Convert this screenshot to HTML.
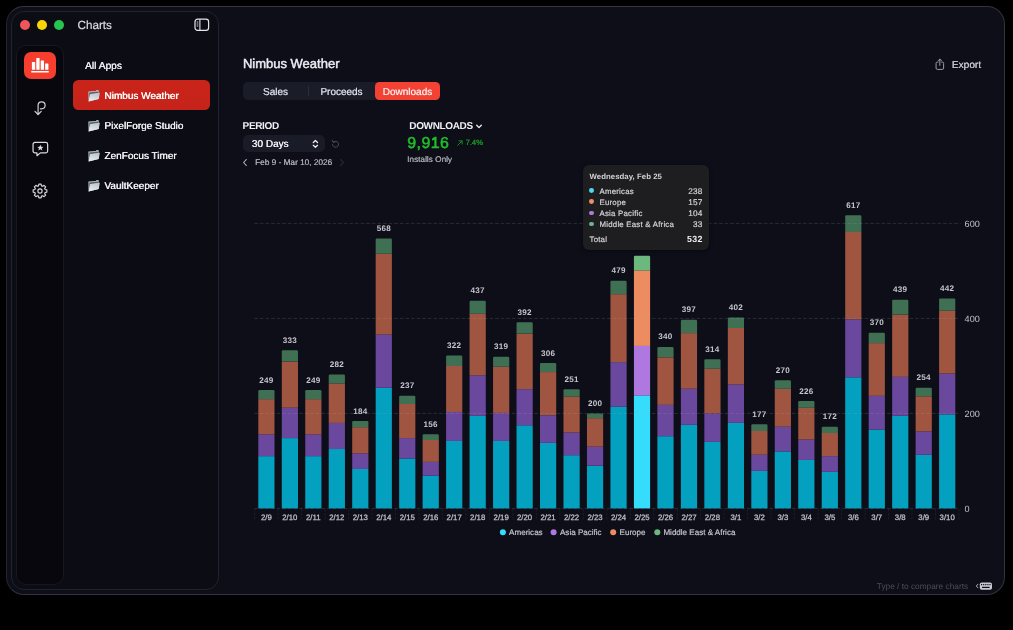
<!DOCTYPE html>
<html><head><meta charset="utf-8"><title>Charts</title>
<style>
*{box-sizing:border-box;margin:0;padding:0}
html,body{width:1013px;height:630px;overflow:hidden;background:#000}
body{font-family:"Liberation Sans",sans-serif;color:#e8e8ee;position:relative;-webkit-font-smoothing:antialiased;text-rendering:geometricPrecision}
.abs{position:absolute;white-space:nowrap}
#win{left:5.7px;top:5.5px;width:999.6px;height:589.8px;border-radius:18px;background:#0d0e18;border:1.3px solid #32333e;border-left-color:#23242f}
#side{left:11px;top:11px;width:208px;height:579px;border-radius:13px;background:#0b0c14;border:1px solid #21222c}
#rail{left:16px;top:44.6px;width:47.5px;height:540.6px;border-radius:10px;background:#07070d;border:1px solid #17181f}
.tl{width:10.2px;height:10.2px;border-radius:50%;top:20.1px}
.row{left:73px;width:137px;height:30px;border-radius:5.5px}
.rt{left:104.3px;font-size:10px;color:#f2f2f6;text-shadow:0.4px 0 0 #f2f2f6}
svg text{font-family:"Liberation Sans",sans-serif;text-rendering:geometricPrecision}
.vl{font-size:8.1px;fill:#c4c4cc;text-anchor:middle;font-weight:bold;letter-spacing:0.25px}
.xl{font-size:7.8px;fill:#c0c0c9;text-anchor:middle;stroke:#c0c0c9;stroke-width:0.25px}
.yl{font-size:9.1px;fill:#c0c0c8}
.lg{font-size:8.05px;fill:#c4c4cc;stroke:#c4c4cc;stroke-width:0.2px}
.seg{top:83.7px;height:18px;font-size:10px;line-height:18px;text-align:center;color:#e6e6ec;-webkit-text-stroke:0.2px #e6e6ec}
.tt{font-size:7.85px;letter-spacing:0.22px;color:#d2d2d8;-webkit-text-stroke:0.2px #d2d2d8}
.tv{font-size:8.25px;color:#d2d2d8;text-align:right;width:30px;left:672.5px;letter-spacing:0.15px;-webkit-text-stroke:0.2px #d2d2d8}
.dot{width:4.8px;height:4.8px;border-radius:50%;left:589.2px}
#root{position:absolute;left:0;top:0;width:1013px;height:630px;will-change:transform}
</style></head><body><div id="root">
<div id="win" class="abs"></div>
<div id="side" class="abs"></div>
<div id="rail" class="abs"></div>

<!-- traffic lights -->
<div class="abs tl" style="left:19.9px;background:#f2545b"></div>
<div class="abs tl" style="left:37.1px;background:#fcd40a"></div>
<div class="abs tl" style="left:54.1px;background:#27c550"></div>
<div class="abs" style="left:77.5px;top:19px;font-size:11.7px;color:#dcdce2;-webkit-text-stroke:0.2px #dcdce2">Charts</div>
<svg class="abs" style="left:193.6px;top:18.2px" width="16" height="14" viewBox="0 0 16 14"><rect x="1" y="1.2" width="13.6" height="11.2" rx="2.6" fill="none" stroke="#e4e4ea" stroke-width="1.2"/><line x1="5.9" y1="1.2" x2="5.9" y2="12.4" stroke="#e4e4ea" stroke-width="1.1"/><line x1="2.7" y1="4" x2="4.3" y2="4" stroke="#e4e4ea" stroke-width="0.9"/><line x1="2.7" y1="6" x2="4.3" y2="6" stroke="#e4e4ea" stroke-width="0.9"/><line x1="2.7" y1="8" x2="4.3" y2="8" stroke="#e4e4ea" stroke-width="0.9"/></svg>

<!-- rail icons -->
<div class="abs" style="left:23.800px;top:51.800px;width:32.500px;height:27px;border-radius:7px;background:#f63e2e"></div>
<svg class="abs" style="left:23.800px;top:52px" width="33" height="27" viewBox="0 0 33 27"><g fill="#fff"><rect x="7.900" y="10.100" width="3.300" height="7.700" rx="0.500"/><rect x="12.300" y="6" width="3.300" height="11.800" rx="0.500"/><rect x="16.700" y="8.400" width="3.300" height="9.400" rx="0.500"/><rect x="21.100" y="11.600" width="3.300" height="6.200" rx="0.500"/><rect x="7.200" y="19" width="17.600" height="1.600" rx="0.500"/></g></svg>
<svg class="abs" style="left:31px;top:97px" width="18" height="22" viewBox="0 0 18 22"><g fill="none" stroke="#d0d0d8" stroke-width="1.200" stroke-linecap="round" stroke-linejoin="round"><path d="M7.100 17.300V8.300a3.500 3.500 0 1 1 3.500 3.500H9.400"/><path d="M4 14.400l3.100 3.100 3.100-3.100"/></g></svg>
<svg class="abs" style="left:30.950px;top:140.200px" width="18.700" height="18.700" viewBox="0 0 20 20"><path d="M4.2 2.6h11.6a2 2 0 0 1 2 2v7.2a2 2 0 0 1-2 2H10l-3.6 3v-3H4.2a2 2 0 0 1-2-2V4.600a2 2 0 0 1 2-2z" fill="none" stroke="#d8d8de" stroke-width="1.3" stroke-linejoin="round"/><path d="M10 5l1 2.2 2.3.2-1.8 1.5.6 2.3L10 10l-2.100 1.200.6-2.300-1.800-1.500 2.300-.2z" fill="#d8d8de"/></svg>
<svg class="abs" style="left:31.900px;top:182.750px" width="16" height="16" viewBox="0 0 24 24"><g fill="none" stroke="#d8d8de" stroke-width="1.7" stroke-linejoin="round"><path d="M10.3 2.500h3.400l.5 2.600 1.700.7 2.200-1.500 2.400 2.400-1.500 2.200.7 1.700 2.600.5v3.400l-2.600.5-.7 1.700 1.500 2.200-2.400 2.400-2.200-1.500-1.700.7-.5 2.600h-3.400l-.5-2.600-1.700-.7-2.200 1.500-2.400-2.400 1.500-2.200-.7-1.700-2.600-.5v-3.400l2.600-.5.7-1.700-1.500-2.200 2.400-2.400 2.200 1.500 1.700-.7z" transform="translate(0,-0.800)"/><circle cx="12" cy="12" r="3.200"/></g></svg>

<!-- sidebar list -->
<div class="abs" style="left:85px;top:61.3px;font-size:10.2px;color:#ececf2;text-shadow:0.3px 0 0 #ececf2">All Apps</div>
<div class="abs row" style="top:80px;background:linear-gradient(180deg,#ca241a,#c5231a)"></div>
<svg class="abs" style="left:88.3px;top:89.5px" width="13" height="12" viewBox="0 0 13 12"><defs><linearGradient id="fg" x1="0.6" y1="0" x2="0.3" y2="1"><stop offset="0" stop-color="#bcc5cc"/><stop offset="1" stop-color="#e9edf0"/></linearGradient></defs><path d="M0.4 1.500L7.900 0.900L8.300 0.200L10.400 0.100L10.700 0.900V9L0.600 11.400z" fill="#c3c8cd"/><path d="M1.200 2.400L10.300 1.600V3.300L2.300 4.300L1.400 8.500z" fill="#565d66"/><path d="M2.150 4L11.900 2.750L10.650 9.050L0.650 11.450z" fill="url(#fg)"/></svg>
<svg class="abs" style="left:88.3px;top:119.5px" width="13" height="12" viewBox="0 0 13 12"><defs><linearGradient id="fg" x1="0.6" y1="0" x2="0.3" y2="1"><stop offset="0" stop-color="#bcc5cc"/><stop offset="1" stop-color="#e9edf0"/></linearGradient></defs><path d="M0.4 1.500L7.900 0.900L8.300 0.200L10.400 0.100L10.700 0.900V9L0.600 11.400z" fill="#c3c8cd"/><path d="M1.200 2.400L10.300 1.600V3.300L2.300 4.300L1.400 8.500z" fill="#565d66"/><path d="M2.150 4L11.900 2.750L10.650 9.050L0.650 11.450z" fill="url(#fg)"/></svg>
<svg class="abs" style="left:88.3px;top:149.5px" width="13" height="12" viewBox="0 0 13 12"><defs><linearGradient id="fg" x1="0.6" y1="0" x2="0.3" y2="1"><stop offset="0" stop-color="#bcc5cc"/><stop offset="1" stop-color="#e9edf0"/></linearGradient></defs><path d="M0.4 1.500L7.900 0.900L8.300 0.200L10.400 0.100L10.700 0.900V9L0.600 11.400z" fill="#c3c8cd"/><path d="M1.200 2.400L10.300 1.600V3.300L2.300 4.300L1.400 8.500z" fill="#565d66"/><path d="M2.150 4L11.900 2.750L10.650 9.050L0.650 11.450z" fill="url(#fg)"/></svg>
<svg class="abs" style="left:88.3px;top:179.5px" width="13" height="12" viewBox="0 0 13 12"><defs><linearGradient id="fg" x1="0.6" y1="0" x2="0.3" y2="1"><stop offset="0" stop-color="#bcc5cc"/><stop offset="1" stop-color="#e9edf0"/></linearGradient></defs><path d="M0.4 1.500L7.900 0.900L8.300 0.200L10.400 0.100L10.700 0.900V9L0.600 11.400z" fill="#c3c8cd"/><path d="M1.200 2.400L10.300 1.600V3.300L2.300 4.300L1.400 8.500z" fill="#565d66"/><path d="M2.150 4L11.900 2.750L10.650 9.050L0.650 11.450z" fill="url(#fg)"/></svg>
<div class="abs rt" style="top:91px;color:#fff;text-shadow:0.4px 0 0 #fff">Nimbus Weather</div>
<div class="abs rt" style="top:121px">PixelForge Studio</div>
<div class="abs rt" style="top:151px">ZenFocus Timer</div>
<div class="abs rt" style="top:181px">VaultKeeper</div>

<!-- header -->
<div class="abs" style="left:242.9px;top:56.2px;font-size:13px;color:#ececf2;-webkit-text-stroke:0.45px #ececf2">Nimbus Weather</div>
<svg class="abs" style="left:933.850px;top:57.200px" width="12.600" height="14.400" viewBox="0 0 14 16"><g fill="none" stroke="#a6a6b0" stroke-width="1.050" stroke-linecap="round" stroke-linejoin="round"><path d="M4.600 5.600H3.800a1.500 1.500 0 0 0-1.500 1.500v5.200a1.500 1.500 0 0 0 1.500 1.500h5.400a1.500 1.500 0 0 0 1.500-1.500V7.100a1.500 1.500 0 0 0-1.500-1.500H8.400"/><path d="M6.500 9.400V2.400M4.800 4l1.700-1.700L8.200 4"/></g></svg>
<div class="abs" style="left:951.8px;top:59.9px;font-size:10.1px;color:#c2c2ca;text-shadow:0.25px 0 0 #c2c2ca">Export</div>

<!-- segmented -->
<div class="abs" style="left:243px;top:82px;width:197px;height:18px;border-radius:5px;background:#1a1c28"></div>
<div class="abs" style="left:308px;top:86px;width:1px;height:10px;background:#2c2e3a"></div>
<div class="abs seg" style="left:243px;width:65px">Sales</div>
<div class="abs seg" style="left:308px;width:67px">Proceeds</div>
<div class="abs" style="left:375px;top:82px;width:65px;height:18px;border-radius:4.5px;background:#f34233"></div>
<div class="abs seg" style="left:375px;width:65px;color:#fff">Downloads</div>

<!-- period -->
<div class="abs" style="left:242.600px;top:120.9px;font-size:10px;font-weight:bold;color:#f0f0f4;letter-spacing:-0.35px">PERIOD</div>
<div class="abs" style="left:243px;top:135px;width:81.800px;height:17.300px;border-radius:5px;background:#191b27"></div>
<div class="abs" style="left:251.800px;top:138.800px;font-size:10px;color:#f0f0f4;text-shadow:0.3px 0 0 #f0f0f4">30 Days</div>
<svg class="abs" style="left:310.600px;top:138px" width="9" height="12" viewBox="0 0 9 12"><g fill="none" stroke="#f0f0f4" stroke-width="1.250" stroke-linecap="round" stroke-linejoin="round"><path d="M2.300 4.500l2.100-2L6.500 4.500"/><path d="M2.300 7.300l2.100 2L6.500 7.300"/></g></svg>
<svg class="abs" style="left:331px;top:138.500px" width="9" height="10" viewBox="0 0 9 10"><g fill="none" stroke="#4a4c58" stroke-width="1" stroke-linecap="round" stroke-linejoin="round"><path d="M2.200 3.300A3 3 0 1 1 1.500 5.600"/><path d="M1.200 1.200l.9 2.200 2.200-.6" /></g></svg>
<svg class="abs" style="left:242px;top:157.500px" width="6" height="9" viewBox="0 0 6 9"><path d="M4.300 1.500L1.600 4.500l2.700 3" fill="none" stroke="#b8b8c0" stroke-width="1.100" stroke-linecap="round" stroke-linejoin="round"/></svg>
<div class="abs" style="left:255px;top:157.600px;font-size:8.25px;color:#a8a8b2;text-shadow:0.3px 0 0 #a8a8b2">Feb 9 - Mar 10, 2026</div>
<svg class="abs" style="left:339px;top:157.500px" width="6" height="9" viewBox="0 0 6 9"><path d="M1.700 1.500L4.400 4.500l-2.700 3" fill="none" stroke="#2c2e3a" stroke-width="1.100" stroke-linecap="round" stroke-linejoin="round"/></svg>

<!-- downloads -->
<div class="abs" style="left:409.300px;top:120.9px;font-size:10px;font-weight:bold;color:#f0f0f4;letter-spacing:-0.35px">DOWNLOADS</div>
<svg class="abs" style="left:475px;top:122.500px" width="8" height="7" viewBox="0 0 8 7"><path d="M1.700 2.300L4 4.600l2.300-2.300" fill="none" stroke="#f0f0f4" stroke-width="1.300" stroke-linecap="round" stroke-linejoin="round"/></svg>
<div class="abs" style="left:407.300px;top:134.700px;font-size:15.900px;color:#1fbe2a;letter-spacing:0.47px;-webkit-text-stroke:0.55px #1fbe2a">9,916</div>
<svg class="abs" style="left:455.500px;top:138.500px" width="8" height="8" viewBox="0 0 8 8"><path d="M1.700 6.300L6 2M2.900 1.900h3.200v3.200" fill="none" stroke="#1a9a26" stroke-width="0.900" stroke-linecap="round" stroke-linejoin="round"/></svg>
<div class="abs" style="left:465.400px;top:138.300px;font-size:7.700px;color:#1a9a26;text-shadow:0.3px 0 0 #1a9a26">7.4%</div>
<div class="abs" style="left:407px;top:155px;font-size:8.25px;color:#a0a0aa;text-shadow:0.3px 0 0 #a0a0aa">Installs Only</div>

<!-- chart -->
<svg class="abs" style="left:0;top:0" width="1013" height="630" viewBox="0 0 1013 630">
<rect x="258.30" y="456.15" width="16.2" height="52.25" fill="#04a0c0"/>
<rect x="258.30" y="434.30" width="16.2" height="21.85" fill="#6a489e"/>
<rect x="258.30" y="399.15" width="16.2" height="35.15" fill="#a05540"/>
<path d="M258.30 399.15V391.32q0 -1.2 1.2 -1.2h13.80q1.2 0 1.2 1.2V399.15z" fill="#3f7053"/>
<text x="266.40" y="382.68" class="vl">249</text>
<text x="266.40" y="519.7" class="xl">2/9</text>
<rect x="281.78" y="438.10" width="16.2" height="70.30" fill="#04a0c0"/>
<rect x="281.78" y="407.70" width="16.2" height="30.40" fill="#6a489e"/>
<rect x="281.78" y="361.62" width="16.2" height="46.07" fill="#a05540"/>
<path d="M281.78 361.62V351.43q0 -1.2 1.2 -1.2h13.80q1.2 0 1.2 1.2V361.62z" fill="#3f7053"/>
<text x="289.88" y="342.78" class="vl">333</text>
<text x="289.88" y="519.7" class="xl">2/10</text>
<rect x="305.25" y="456.15" width="16.2" height="52.25" fill="#04a0c0"/>
<rect x="305.25" y="434.30" width="16.2" height="21.85" fill="#6a489e"/>
<rect x="305.25" y="399.15" width="16.2" height="35.15" fill="#a05540"/>
<path d="M305.25 399.15V391.32q0 -1.2 1.2 -1.2h13.80q1.2 0 1.2 1.2V399.15z" fill="#3f7053"/>
<text x="313.35" y="382.68" class="vl">249</text>
<text x="313.35" y="519.7" class="xl">2/11</text>
<rect x="328.73" y="449.02" width="16.2" height="59.38" fill="#04a0c0"/>
<rect x="328.73" y="422.90" width="16.2" height="26.12" fill="#6a489e"/>
<rect x="328.73" y="383.47" width="16.2" height="39.43" fill="#a05540"/>
<path d="M328.73 383.47V375.65q0 -1.2 1.2 -1.2h13.80q1.2 0 1.2 1.2V383.47z" fill="#3f7053"/>
<text x="336.83" y="367.00" class="vl">282</text>
<text x="336.83" y="519.7" class="xl">2/12</text>
<rect x="352.20" y="468.97" width="16.2" height="39.43" fill="#04a0c0"/>
<rect x="352.20" y="453.30" width="16.2" height="15.68" fill="#6a489e"/>
<rect x="352.20" y="427.17" width="16.2" height="26.12" fill="#a05540"/>
<path d="M352.20 427.17V422.20q0 -1.2 1.2 -1.2h13.80q1.2 0 1.2 1.2V427.17z" fill="#3f7053"/>
<text x="360.30" y="413.55" class="vl">184</text>
<text x="360.30" y="519.7" class="xl">2/13</text>
<rect x="375.68" y="387.75" width="16.2" height="120.65" fill="#04a0c0"/>
<rect x="375.68" y="334.55" width="16.2" height="53.20" fill="#6a489e"/>
<rect x="375.68" y="253.80" width="16.2" height="80.75" fill="#a05540"/>
<path d="M375.68 253.80V239.80q0 -1.2 1.2 -1.2h13.80q1.2 0 1.2 1.2V253.80z" fill="#3f7053"/>
<text x="383.78" y="231.15" class="vl">568</text>
<text x="383.78" y="519.7" class="xl">2/14</text>
<rect x="399.16" y="458.52" width="16.2" height="49.88" fill="#04a0c0"/>
<rect x="399.16" y="438.10" width="16.2" height="20.43" fill="#6a489e"/>
<rect x="399.16" y="403.90" width="16.2" height="34.20" fill="#a05540"/>
<path d="M399.16 403.90V397.02q0 -1.2 1.2 -1.2h13.80q1.2 0 1.2 1.2V403.90z" fill="#3f7053"/>
<text x="407.26" y="388.38" class="vl">237</text>
<text x="407.26" y="519.7" class="xl">2/15</text>
<rect x="422.63" y="475.62" width="16.2" height="32.77" fill="#04a0c0"/>
<rect x="422.63" y="461.85" width="16.2" height="13.78" fill="#6a489e"/>
<rect x="422.63" y="440.00" width="16.2" height="21.85" fill="#a05540"/>
<path d="M422.63 440.00V435.50q0 -1.2 1.2 -1.2h13.80q1.2 0 1.2 1.2V440.00z" fill="#3f7053"/>
<text x="430.73" y="426.85" class="vl">156</text>
<text x="430.73" y="519.7" class="xl">2/16</text>
<rect x="446.11" y="440.95" width="16.2" height="67.45" fill="#04a0c0"/>
<rect x="446.11" y="411.97" width="16.2" height="28.98" fill="#6a489e"/>
<rect x="446.11" y="365.90" width="16.2" height="46.07" fill="#a05540"/>
<path d="M446.11 365.90V356.65q0 -1.2 1.2 -1.2h13.80q1.2 0 1.2 1.2V365.90z" fill="#3f7053"/>
<text x="454.21" y="348.00" class="vl">322</text>
<text x="454.21" y="519.7" class="xl">2/17</text>
<rect x="469.58" y="415.77" width="16.2" height="92.62" fill="#04a0c0"/>
<rect x="469.58" y="375.40" width="16.2" height="40.38" fill="#6a489e"/>
<rect x="469.58" y="313.65" width="16.2" height="61.75" fill="#a05540"/>
<path d="M469.58 313.65V302.02q0 -1.2 1.2 -1.2h13.80q1.2 0 1.2 1.2V313.65z" fill="#3f7053"/>
<text x="477.68" y="293.38" class="vl">437</text>
<text x="477.68" y="519.7" class="xl">2/18</text>
<rect x="493.06" y="440.95" width="16.2" height="67.45" fill="#04a0c0"/>
<rect x="493.06" y="412.92" width="16.2" height="28.03" fill="#6a489e"/>
<rect x="493.06" y="366.85" width="16.2" height="46.07" fill="#a05540"/>
<path d="M493.06 366.85V358.07q0 -1.2 1.2 -1.2h13.80q1.2 0 1.2 1.2V366.85z" fill="#3f7053"/>
<text x="501.16" y="349.43" class="vl">319</text>
<text x="501.16" y="519.7" class="xl">2/19</text>
<rect x="516.54" y="425.27" width="16.2" height="83.12" fill="#04a0c0"/>
<rect x="516.54" y="389.17" width="16.2" height="36.10" fill="#6a489e"/>
<rect x="516.54" y="333.60" width="16.2" height="55.57" fill="#a05540"/>
<path d="M516.54 333.60V323.40q0 -1.2 1.2 -1.2h13.80q1.2 0 1.2 1.2V333.60z" fill="#3f7053"/>
<text x="524.64" y="314.75" class="vl">392</text>
<text x="524.64" y="519.7" class="xl">2/20</text>
<rect x="540.01" y="442.85" width="16.2" height="65.55" fill="#04a0c0"/>
<rect x="540.01" y="415.30" width="16.2" height="27.55" fill="#6a489e"/>
<rect x="540.01" y="372.07" width="16.2" height="43.22" fill="#a05540"/>
<path d="M540.01 372.07V364.25q0 -1.2 1.2 -1.2h13.80q1.2 0 1.2 1.2V372.07z" fill="#3f7053"/>
<text x="548.11" y="355.60" class="vl">306</text>
<text x="548.11" y="519.7" class="xl">2/21</text>
<rect x="563.49" y="455.20" width="16.2" height="53.20" fill="#04a0c0"/>
<rect x="563.49" y="432.40" width="16.2" height="22.80" fill="#6a489e"/>
<rect x="563.49" y="396.77" width="16.2" height="35.62" fill="#a05540"/>
<path d="M563.49 396.77V390.37q0 -1.2 1.2 -1.2h13.80q1.2 0 1.2 1.2V396.77z" fill="#3f7053"/>
<text x="571.59" y="381.72" class="vl">251</text>
<text x="571.59" y="519.7" class="xl">2/22</text>
<rect x="586.96" y="465.65" width="16.2" height="42.75" fill="#04a0c0"/>
<rect x="586.96" y="446.65" width="16.2" height="19.00" fill="#6a489e"/>
<rect x="586.96" y="418.15" width="16.2" height="28.50" fill="#a05540"/>
<path d="M586.96 418.15V414.60q0 -1.2 1.2 -1.2h13.80q1.2 0 1.2 1.2V418.15z" fill="#3f7053"/>
<text x="595.06" y="405.95" class="vl">200</text>
<text x="595.06" y="519.7" class="xl">2/23</text>
<rect x="610.44" y="406.75" width="16.2" height="101.65" fill="#04a0c0"/>
<rect x="610.44" y="362.10" width="16.2" height="44.65" fill="#6a489e"/>
<rect x="610.44" y="294.17" width="16.2" height="67.93" fill="#a05540"/>
<path d="M610.44 294.17V282.07q0 -1.2 1.2 -1.2h13.80q1.2 0 1.2 1.2V294.17z" fill="#3f7053"/>
<text x="618.54" y="273.43" class="vl">479</text>
<text x="618.54" y="519.7" class="xl">2/24</text>
<rect x="633.92" y="395.35" width="16.2" height="113.05" fill="#36dcfc"/>
<rect x="633.92" y="345.95" width="16.2" height="49.40" fill="#ae78e0"/>
<rect x="633.92" y="270.42" width="16.2" height="75.53" fill="#ec8c60"/>
<path d="M633.92 270.42V256.90q0 -1.2 1.2 -1.2h13.80q1.2 0 1.2 1.2V270.42z" fill="#6db87e"/>
<text x="642.02" y="519.7" class="xl">2/25</text>
<rect x="657.39" y="436.20" width="16.2" height="72.20" fill="#04a0c0"/>
<rect x="657.39" y="404.85" width="16.2" height="31.35" fill="#6a489e"/>
<rect x="657.39" y="357.35" width="16.2" height="47.50" fill="#a05540"/>
<path d="M657.39 357.35V348.10q0 -1.2 1.2 -1.2h13.80q1.2 0 1.2 1.2V357.35z" fill="#3f7053"/>
<text x="665.49" y="339.45" class="vl">340</text>
<text x="665.49" y="519.7" class="xl">2/26</text>
<rect x="680.87" y="424.80" width="16.2" height="83.60" fill="#04a0c0"/>
<rect x="680.87" y="388.70" width="16.2" height="36.10" fill="#6a489e"/>
<rect x="680.87" y="333.12" width="16.2" height="55.57" fill="#a05540"/>
<path d="M680.87 333.12V321.02q0 -1.2 1.2 -1.2h13.80q1.2 0 1.2 1.2V333.12z" fill="#3f7053"/>
<text x="688.97" y="312.38" class="vl">397</text>
<text x="688.97" y="519.7" class="xl">2/27</text>
<rect x="704.34" y="441.90" width="16.2" height="66.50" fill="#04a0c0"/>
<rect x="704.34" y="413.40" width="16.2" height="28.50" fill="#6a489e"/>
<rect x="704.34" y="368.75" width="16.2" height="44.65" fill="#a05540"/>
<path d="M704.34 368.75V360.45q0 -1.2 1.2 -1.2h13.80q1.2 0 1.2 1.2V368.75z" fill="#3f7053"/>
<text x="712.44" y="351.80" class="vl">314</text>
<text x="712.44" y="519.7" class="xl">2/28</text>
<rect x="727.82" y="422.90" width="16.2" height="85.50" fill="#04a0c0"/>
<rect x="727.82" y="384.42" width="16.2" height="38.48" fill="#6a489e"/>
<rect x="727.82" y="327.90" width="16.2" height="56.52" fill="#a05540"/>
<path d="M727.82 327.90V318.65q0 -1.2 1.2 -1.2h13.80q1.2 0 1.2 1.2V327.90z" fill="#3f7053"/>
<text x="735.92" y="310.00" class="vl">402</text>
<text x="735.92" y="519.7" class="xl">3/1</text>
<rect x="751.30" y="470.88" width="16.2" height="37.52" fill="#04a0c0"/>
<rect x="751.30" y="454.72" width="16.2" height="16.15" fill="#6a489e"/>
<rect x="751.30" y="430.97" width="16.2" height="23.75" fill="#a05540"/>
<path d="M751.30 430.97V425.52q0 -1.2 1.2 -1.2h13.80q1.2 0 1.2 1.2V430.97z" fill="#3f7053"/>
<text x="759.40" y="416.88" class="vl">177</text>
<text x="759.40" y="519.7" class="xl">3/2</text>
<rect x="774.77" y="451.40" width="16.2" height="57.00" fill="#04a0c0"/>
<rect x="774.77" y="426.70" width="16.2" height="24.70" fill="#6a489e"/>
<rect x="774.77" y="388.70" width="16.2" height="38.00" fill="#a05540"/>
<path d="M774.77 388.70V381.35q0 -1.2 1.2 -1.2h13.80q1.2 0 1.2 1.2V388.70z" fill="#3f7053"/>
<text x="782.87" y="372.70" class="vl">270</text>
<text x="782.87" y="519.7" class="xl">3/3</text>
<rect x="798.25" y="459.95" width="16.2" height="48.45" fill="#04a0c0"/>
<rect x="798.25" y="439.52" width="16.2" height="20.43" fill="#6a489e"/>
<rect x="798.25" y="407.70" width="16.2" height="31.82" fill="#a05540"/>
<path d="M798.25 407.70V402.25q0 -1.2 1.2 -1.2h13.80q1.2 0 1.2 1.2V407.70z" fill="#3f7053"/>
<text x="806.35" y="393.60" class="vl">226</text>
<text x="806.35" y="519.7" class="xl">3/4</text>
<rect x="821.72" y="471.82" width="16.2" height="36.57" fill="#04a0c0"/>
<rect x="821.72" y="456.15" width="16.2" height="15.68" fill="#6a489e"/>
<rect x="821.72" y="432.88" width="16.2" height="23.27" fill="#a05540"/>
<path d="M821.72 432.88V427.90q0 -1.2 1.2 -1.2h13.80q1.2 0 1.2 1.2V432.88z" fill="#3f7053"/>
<text x="829.82" y="419.25" class="vl">172</text>
<text x="829.82" y="519.7" class="xl">3/5</text>
<rect x="845.20" y="377.30" width="16.2" height="131.10" fill="#04a0c0"/>
<rect x="845.20" y="319.35" width="16.2" height="57.95" fill="#6a489e"/>
<rect x="845.20" y="231.95" width="16.2" height="87.40" fill="#a05540"/>
<path d="M845.20 231.95V216.52q0 -1.2 1.2 -1.2h13.80q1.2 0 1.2 1.2V231.95z" fill="#3f7053"/>
<text x="853.30" y="207.88" class="vl">617</text>
<text x="853.30" y="519.7" class="xl">3/6</text>
<rect x="868.68" y="429.55" width="16.2" height="78.85" fill="#04a0c0"/>
<rect x="868.68" y="395.82" width="16.2" height="33.72" fill="#6a489e"/>
<rect x="868.68" y="343.10" width="16.2" height="52.72" fill="#a05540"/>
<path d="M868.68 343.10V333.85q0 -1.2 1.2 -1.2h13.80q1.2 0 1.2 1.2V343.10z" fill="#3f7053"/>
<text x="876.78" y="325.20" class="vl">370</text>
<text x="876.78" y="519.7" class="xl">3/7</text>
<rect x="892.15" y="415.77" width="16.2" height="92.62" fill="#04a0c0"/>
<rect x="892.15" y="376.82" width="16.2" height="38.95" fill="#6a489e"/>
<rect x="892.15" y="314.60" width="16.2" height="62.22" fill="#a05540"/>
<path d="M892.15 314.60V301.07q0 -1.2 1.2 -1.2h13.80q1.2 0 1.2 1.2V314.60z" fill="#3f7053"/>
<text x="900.25" y="292.43" class="vl">439</text>
<text x="900.25" y="519.7" class="xl">3/8</text>
<rect x="915.63" y="454.72" width="16.2" height="53.68" fill="#04a0c0"/>
<rect x="915.63" y="431.45" width="16.2" height="23.27" fill="#6a489e"/>
<rect x="915.63" y="396.30" width="16.2" height="35.15" fill="#a05540"/>
<path d="M915.63 396.30V388.95q0 -1.2 1.2 -1.2h13.80q1.2 0 1.2 1.2V396.30z" fill="#3f7053"/>
<text x="923.73" y="380.30" class="vl">254</text>
<text x="923.73" y="519.7" class="xl">3/9</text>
<rect x="939.10" y="414.35" width="16.2" height="94.05" fill="#04a0c0"/>
<rect x="939.10" y="373.50" width="16.2" height="40.85" fill="#6a489e"/>
<rect x="939.10" y="310.80" width="16.2" height="62.70" fill="#a05540"/>
<path d="M939.10 310.80V299.65q0 -1.2 1.2 -1.2h13.80q1.2 0 1.2 1.2V310.80z" fill="#3f7053"/>
<text x="947.20" y="291.00" class="vl">442</text>
<text x="947.20" y="519.7" class="xl">3/10</text>
<line x1="254.66" y1="509" x2="254.66" y2="519.5" stroke="#23242e" stroke-width="0.7" stroke-dasharray="2.5 1.5"/>
<line x1="278.14" y1="509" x2="278.14" y2="519.5" stroke="#23242e" stroke-width="0.7" stroke-dasharray="2.5 1.5"/>
<line x1="301.61" y1="509" x2="301.61" y2="519.5" stroke="#23242e" stroke-width="0.7" stroke-dasharray="2.5 1.5"/>
<line x1="325.09" y1="509" x2="325.09" y2="519.5" stroke="#23242e" stroke-width="0.7" stroke-dasharray="2.5 1.5"/>
<line x1="348.57" y1="509" x2="348.57" y2="519.5" stroke="#23242e" stroke-width="0.7" stroke-dasharray="2.5 1.5"/>
<line x1="372.04" y1="509" x2="372.04" y2="519.5" stroke="#23242e" stroke-width="0.7" stroke-dasharray="2.5 1.5"/>
<line x1="395.52" y1="509" x2="395.52" y2="519.5" stroke="#23242e" stroke-width="0.7" stroke-dasharray="2.5 1.5"/>
<line x1="418.99" y1="509" x2="418.99" y2="519.5" stroke="#23242e" stroke-width="0.7" stroke-dasharray="2.5 1.5"/>
<line x1="442.47" y1="509" x2="442.47" y2="519.5" stroke="#23242e" stroke-width="0.7" stroke-dasharray="2.5 1.5"/>
<line x1="465.95" y1="509" x2="465.95" y2="519.5" stroke="#23242e" stroke-width="0.7" stroke-dasharray="2.5 1.5"/>
<line x1="489.42" y1="509" x2="489.42" y2="519.5" stroke="#23242e" stroke-width="0.7" stroke-dasharray="2.5 1.5"/>
<line x1="512.90" y1="509" x2="512.90" y2="519.5" stroke="#23242e" stroke-width="0.7" stroke-dasharray="2.5 1.5"/>
<line x1="536.37" y1="509" x2="536.37" y2="519.5" stroke="#23242e" stroke-width="0.7" stroke-dasharray="2.5 1.5"/>
<line x1="559.85" y1="509" x2="559.85" y2="519.5" stroke="#23242e" stroke-width="0.7" stroke-dasharray="2.5 1.5"/>
<line x1="583.33" y1="509" x2="583.33" y2="519.5" stroke="#23242e" stroke-width="0.7" stroke-dasharray="2.5 1.5"/>
<line x1="606.80" y1="509" x2="606.80" y2="519.5" stroke="#23242e" stroke-width="0.7" stroke-dasharray="2.5 1.5"/>
<line x1="630.28" y1="509" x2="630.28" y2="519.5" stroke="#23242e" stroke-width="0.7" stroke-dasharray="2.5 1.5"/>
<line x1="653.75" y1="509" x2="653.75" y2="519.5" stroke="#23242e" stroke-width="0.7" stroke-dasharray="2.5 1.5"/>
<line x1="677.23" y1="509" x2="677.23" y2="519.5" stroke="#23242e" stroke-width="0.7" stroke-dasharray="2.5 1.5"/>
<line x1="700.71" y1="509" x2="700.71" y2="519.5" stroke="#23242e" stroke-width="0.7" stroke-dasharray="2.5 1.5"/>
<line x1="724.18" y1="509" x2="724.18" y2="519.5" stroke="#23242e" stroke-width="0.7" stroke-dasharray="2.5 1.5"/>
<line x1="747.66" y1="509" x2="747.66" y2="519.5" stroke="#23242e" stroke-width="0.7" stroke-dasharray="2.5 1.5"/>
<line x1="771.13" y1="509" x2="771.13" y2="519.5" stroke="#23242e" stroke-width="0.7" stroke-dasharray="2.5 1.5"/>
<line x1="794.61" y1="509" x2="794.61" y2="519.5" stroke="#23242e" stroke-width="0.7" stroke-dasharray="2.5 1.5"/>
<line x1="818.09" y1="509" x2="818.09" y2="519.5" stroke="#23242e" stroke-width="0.7" stroke-dasharray="2.5 1.5"/>
<line x1="841.56" y1="509" x2="841.56" y2="519.5" stroke="#23242e" stroke-width="0.7" stroke-dasharray="2.5 1.5"/>
<line x1="865.04" y1="509" x2="865.04" y2="519.5" stroke="#23242e" stroke-width="0.7" stroke-dasharray="2.5 1.5"/>
<line x1="888.51" y1="509" x2="888.51" y2="519.5" stroke="#23242e" stroke-width="0.7" stroke-dasharray="2.5 1.5"/>
<line x1="911.99" y1="509" x2="911.99" y2="519.5" stroke="#23242e" stroke-width="0.7" stroke-dasharray="2.5 1.5"/>
<line x1="935.47" y1="509" x2="935.47" y2="519.5" stroke="#23242e" stroke-width="0.7" stroke-dasharray="2.5 1.5"/>
<line x1="958.94" y1="509" x2="958.94" y2="519.5" stroke="#23242e" stroke-width="0.7" stroke-dasharray="2.5 1.5"/>
<line x1="254.3" y1="508.4" x2="960.5" y2="508.4" stroke="rgba(170,175,200,0.26)" stroke-width="0.7" stroke-dasharray="3.6 2"/>
<line x1="254.3" y1="413.4" x2="960.5" y2="413.4" stroke="rgba(170,175,200,0.26)" stroke-width="0.7" stroke-dasharray="3.6 2"/>
<line x1="254.3" y1="318.4" x2="960.5" y2="318.4" stroke="rgba(170,175,200,0.26)" stroke-width="0.7" stroke-dasharray="3.6 2"/>
<line x1="254.3" y1="223.4" x2="960.5" y2="223.4" stroke="rgba(170,175,200,0.26)" stroke-width="0.7" stroke-dasharray="3.6 2"/>
<text x="964.6" y="511.6" class="yl">0</text>
<text x="964.6" y="416.6" class="yl">200</text>
<text x="964.6" y="321.6" class="yl">400</text>
<text x="964.6" y="226.6" class="yl">600</text>
<circle cx="502.9" cy="532.3" r="3" fill="#36dcfc"/>
<text x="509.1" y="535.2" class="lg">Americas</text>
<circle cx="553.6" cy="532.3" r="3" fill="#ae78e0"/>
<text x="560" y="535.2" class="lg">Asia Pacific</text>
<circle cx="613.2" cy="532.3" r="3" fill="#ec8c60"/>
<text x="619.6" y="535.2" class="lg">Europe</text>
<circle cx="657.3" cy="532.3" r="3" fill="#6db87e"/>
<text x="663.4" y="535.2" class="lg">Middle East &amp; Africa</text>
</svg>

<!-- tooltip -->
<div class="abs" style="left:583.4px;top:165px;width:125.3px;height:85px;border-radius:6px;background:#1e1e20;box-shadow:0 1px 4px rgba(0,0,0,0.5)"></div>
<div class="abs" style="left:589.500px;top:172.3px;font-size:7.8px;font-weight:bold;color:#d0d0d6;letter-spacing:0.05px">Wednesday, Feb 25</div>
<div class="abs dot" style="top:188.25px;background:#4fd6f2"></div><div class="abs tt" style="left:599.500px;top:187.00px">Americas</div><div class="abs tv" style="top:187.00px">238</div>
<div class="abs dot" style="top:199.40px;background:#ee8e66"></div><div class="abs tt" style="left:599.500px;top:198.15px">Europe</div><div class="abs tv" style="top:198.15px">157</div>
<div class="abs dot" style="top:210.55px;background:#ae7ce0"></div><div class="abs tt" style="left:599.500px;top:209.30px">Asia Pacific</div><div class="abs tv" style="top:209.30px">104</div>
<div class="abs dot" style="top:221.70px;background:#6db48c"></div><div class="abs tt" style="left:599.500px;top:220.45px">Middle East &amp; Africa</div><div class="abs tv" style="top:220.45px">33</div>
<div class="abs tt" style="left:589.500px;top:234.9px">Total</div><div class="abs tv" style="top:234.3px;font-weight:bold;color:#f4f4f8;font-size:8.8px;letter-spacing:0.3px;left:672.7px;-webkit-text-stroke:0">532</div>

<!-- footer hint -->
<div class="abs" style="left:876.800px;top:581px;font-size:8.3px;color:#4c4d58">Type / to compare charts</div>
<svg class="abs" style="left:973px;top:580px" width="22" height="12" viewBox="0 0 22 12"><path d="M4.900 4.200L3.300 6l1.600 1.800" fill="none" stroke="#c0c0c8" stroke-width="0.900" stroke-linecap="round" stroke-linejoin="round"/><rect x="6.800" y="2.400" width="12.200" height="7.300" rx="1.800" fill="#c8c8d0"/><g fill="#0d0e18"><rect x="8" y="4" width="1.200" height="1.200"/><rect x="10.100" y="4" width="1.200" height="1.200"/><rect x="12.200" y="4" width="1.200" height="1.200"/><rect x="14.300" y="4" width="1.200" height="1.200"/><rect x="16.400" y="4" width="1.200" height="1.200"/><rect x="9" y="6.800" width="7.600" height="1.200"/></g></svg>
</div></body></html>
